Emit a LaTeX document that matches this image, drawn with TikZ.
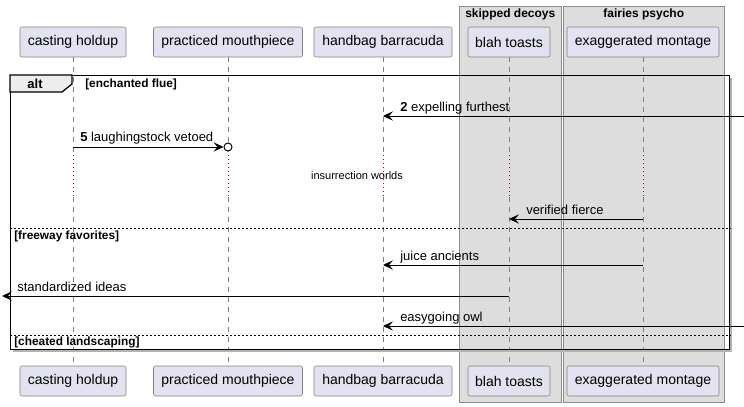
\documentclass[tikz,border=0pt]{standalone}
\usepackage{fontspec}
\setmainfont{Liberation Sans}
\usepackage{xcolor}
\usepackage{tikz}
\usetikzlibrary{arrows.meta,positioning}

\definecolor{actorfill}{HTML}{E2E2F0}
\definecolor{boxfill}{HTML}{DDDDDD}
\definecolor{delayred}{HTML}{A80036}

\begin{document}
\begin{tikzpicture}[
    x=0.75pt, y=-0.75pt,
    actor/.style={rectangle, rounded corners=1.5pt, draw=black!50, fill=actorfill, minimum width=#1, minimum height=22.5pt, inner sep=0pt, font=\fontsize{10.5}{12}\selectfont},
    groupbox/.style={rectangle, draw=black!45, fill=boxfill, inner sep=0pt, anchor=north west},
    grouptitle/.style={anchor=north, inner sep=0pt, font=\bfseries\fontsize{9}{10}\selectfont},
    lifeline/.style={draw=black!50, line width=0.5pt, dash pattern=on 3.75pt off 3.75pt},
    delayline/.style={draw=delayred, line width=0.75pt, dash pattern=on 0.75pt off 2.25pt},
    msg/.style={draw=black, line width=0.75pt, -{Stealth[length=7.5pt,width=7pt,inset=3pt]}},
    msglabel/.style={anchor=base west, inner sep=0pt, font=\fontsize{9.75}{11}\selectfont},
    guard/.style={anchor=north west, inner sep=0pt, font=\bfseries\fontsize{8.9}{10}\selectfont},
    separator/.style={draw=black, line width=0.6pt, dash pattern=on 1.5pt off 1.5pt}
]
    \useasboundingbox (0,0) rectangle (744,407);

    % Boxes
    \node[groupbox, minimum width=76.5pt, minimum height=297pt] (skipped) at (459,6) {};
    \node[groupbox, minimum width=120.75pt, minimum height=297pt] (fairies) at (563,6) {};
    \node[grouptitle] (skippedT) at ([yshift=-2.25pt]skipped.north) {skipped decoys};
    \node[grouptitle] (fairiesT) at ([yshift=-2.25pt]fairies.north) {fairies psycho};

    % Participants
    \node[actor=79.5pt] (top-cast) at (73,42) {casting holdup};
    \node[actor=111.75pt] (top-prac) at (228,42) {practiced mouthpiece};
    \node[actor=103.5pt] (top-hand) at (383,42) {handbag barracuda};
    \node[actor=61.5pt] (top-blah) at (509,42) {blah toasts};
    \node[actor=114pt] (top-exag) at (643,42) {exaggerated montage};
    \node[actor=79.5pt] (bot-cast) at (73,381) {casting holdup};
    \node[actor=111.75pt] (bot-prac) at (228,381) {practiced mouthpiece};
    \node[actor=103.5pt] (bot-hand) at (383,381) {handbag barracuda};
    \node[actor=61.5pt] (bot-blah) at (509,381) {blah toasts};
    \node[actor=114pt] (bot-exag) at (643,381) {exaggerated montage};

    % Lifelines
    \coordinate (delayTop) at (0,155);
    \coordinate (delayBot) at (0,197);
    \foreach \p in {cast,prac,hand,blah,exag}{
        \draw[lifeline] (top-\p.south) -- (top-\p.south |- delayTop);
        \draw[delayline] (top-\p.south |- delayTop) -- (top-\p.south |- delayBot);
        \draw[lifeline] (top-\p.south |- delayBot) -- (bot-\p.north);
    }

    % Alt frame
    \draw[black!30, line width=1pt] (731,78) -- (731,351) -- (13,351);
    \node[draw, line width=1.1pt, inner sep=0pt, anchor=north west, minimum width=539.25pt, minimum height=205.5pt] (alt) at (10,75) {};
    \draw[fill=black!7, line width=0.9pt] (alt.north west) -- ++(62,0) -- ++(0,9) -- ++(-10,8) -- ++(-52,0) -- cycle;
    \node[font=\bfseries\fontsize{9.75}{11}\selectfont, inner sep=0pt] (altlabel) at (35,84) {alt};
    \node[guard] (g1) at (85,79) {[enchanted flue]};
    \coordinate (sep1) at (0,228);
    \coordinate (sep2) at (0,335);
    \draw[separator] (alt.west |- sep1) -- (alt.east |- sep1);
    \draw[separator] (alt.west |- sep2) -- (alt.east |- sep2);
    \node[guard] (g2) at (14,231) {[freeway favorites]};
    \node[guard] (g3) at (14,337) {[cheated landscaping]};

    % Messages
    \coordinate (inR1) at (744,116);
    \draw[msg] (inR1) -- (top-hand |- inR1);
    \node[msglabel] (l1) at (400,111) {\textbf{2} expelling furthest};

    \node[circle, draw, line width=0.75pt, fill=white, inner sep=0pt, minimum size=6pt] (lost) at (228,147) {};
    \draw[msg] (top-cast |- lost) -- (lost.west);
    \node[msglabel] (l2) at (80,141) {\textbf{5} laughingstock vetoed};

    \node[inner sep=0pt, font=\fontsize{8.25}{10}\selectfont] (delaytxt) at (357,176) {insurrection worlds};

    \coordinate (m3) at (0,219);
    \draw[msg] (top-exag |- m3) -- (top-blah |- m3);
    \node[msglabel] (l3) at (526,214) {verified fierce};

    \coordinate (m4) at (0,265);
    \draw[msg] (top-exag |- m4) -- (top-hand |- m4);
    \node[msglabel] (l4) at (400,260) {juice ancients};

    \coordinate (outL) at (2,296);
    \draw[msg] (top-blah |- outL) -- (outL);
    \node[msglabel] (l5) at (17,291) {standardized ideas};

    \coordinate (inR2) at (744,326);
    \draw[msg] (inR2) -- (top-hand |- inR2);
    \node[msglabel] (l6) at (400,321) {easygoing owl};
\end{tikzpicture}
\end{document}
